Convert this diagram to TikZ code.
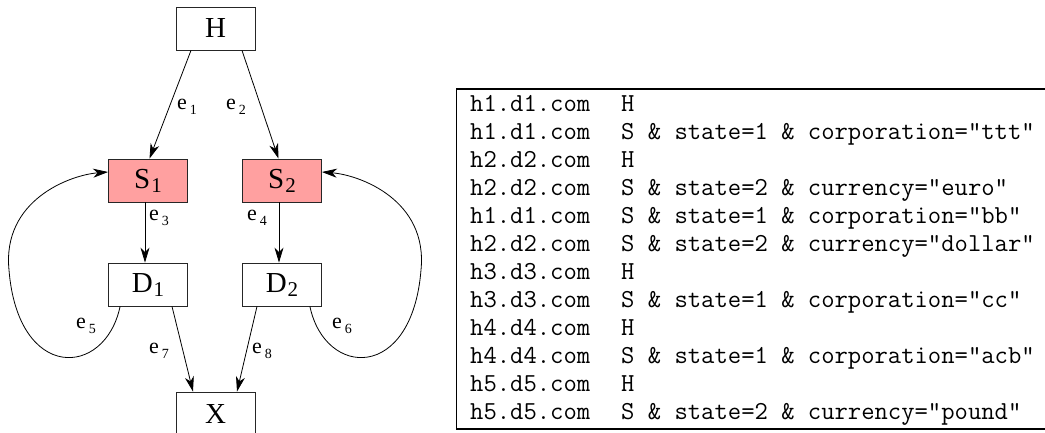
\documentclass[tikz,border=0pt]{standalone}
\usepackage{fontspec}
\setmainfont{Liberation Serif}
\usetikzlibrary{arrows.meta}

\definecolor{statefill}{RGB}{255,160,160}

% edge label e_i and box label with index
\newcommand{\elab}[1]{e\kern3pt\raisebox{-4.5pt}{\fontsize{14}{14}\selectfont #1}}
\newcommand{\idx}[2]{#1\kern1pt\raisebox{-4pt}{\fontsize{21}{21}\selectfont #2}}

\tikzset{
  box/.style={draw=black!85, line width=0.8pt, minimum width=79pt,
    minimum height=43pt, inner sep=0pt, font=\fontsize{29}{29}\selectfont},
  statebox/.style={box, fill=statefill},
  link/.style={line width=0.8pt, -{Stealth[length=15pt,width=9pt,inset=4.5pt]}},
  lbl/.style={inner sep=0pt, font=\fontsize{22}{22}\selectfont},
  rec/.style={inner sep=0pt, anchor=base west,
    font=\ttfamily\fontsize{25.9}{28}\selectfont},
}

\begin{document}
\begin{tikzpicture}[x=1pt,y=-1pt]
  \useasboundingbox (0,0) rectangle (1045,432);

  % the graph
  \node[box] (H) at (215.5,28.5) {H};
  \node[statebox] (S1) at (148,180.5) {\idx{S}{1}};
  \node[statebox] (S2) at (282,180.5) {\idx{S}{2}};
  \node[box] (D1) at (148,284.5) {\idx{D}{1}};
  \node[box] (D2) at (282,284.5) {\idx{D}{2}};
  \node[box] (X) at (215.5,413.5) {X};

  \draw[link] ([xshift=-24.5pt]H.south) -- ([xshift=1.5pt]S1.north);
  \draw[link] ([xshift=26.5pt]H.south) -- ([xshift=-3.5pt]S2.north);
  \draw[link] ([xshift=-3pt]S1.south) -- ([xshift=-3pt]D1.north);
  \draw[link] ([xshift=-3pt]S2.south) -- ([xshift=-3pt]D2.north);
  \draw[link] ([xshift=24pt]D1.south) -- ([xshift=-22.5pt]X.north);
  \draw[link] ([xshift=-25pt]D2.south) -- ([xshift=21.5pt]X.north);
  % loops back to S1 and S2
  \draw[link] ([xshift=12pt]D1.south west) .. controls (105,378) and (18,382) .. (9,270)
    .. controls (2,200) and (70,175) .. ([yshift=8.5pt]S1.west);
  \draw[link] ([xshift=-12pt]D2.south east) .. controls (325,378) and (412,382) .. (421,270)
    .. controls (428,200) and (360,175) .. ([yshift=8.5pt]S2.east);

  \node[lbl] (e1) at (187,107) {\elab{1}};
  \node[lbl] (e2) at (236,107) {\elab{2}};
  \node[lbl] (e3) at (159,218) {\elab{3}};
  \node[lbl] (e4) at (257,218) {\elab{4}};
  \node[lbl] (e5) at (86,326) {\elab{5}};
  \node[lbl] (e6) at (342,326) {\elab{6}};
  \node[lbl] (e7) at (159,351) {\elab{7}};
  \node[lbl] (e8) at (262,351) {\elab{8}};

  % the records
  \draw[line width=1.5pt] (1050,89) -| (456.5,429) -- (1050,429);
  \foreach \host/\entry [count=\i from 0] in {
      {h1.d1.com}/{H},
      {h1.d1.com}/{S \& state=1 \& corporation="ttt"},
      {h2.d2.com}/{H},
      {h2.d2.com}/{S \& state=2 \& currency="euro"},
      {h1.d1.com}/{S \& state=1 \& corporation="bb"},
      {h2.d2.com}/{S \& state=2 \& currency="dollar"},
      {h3.d3.com}/{H},
      {h3.d3.com}/{S \& state=1 \& corporation="cc"},
      {h4.d4.com}/{H},
      {h4.d4.com}/{S \& state=1 \& corporation="acb"},
      {h5.d5.com}/{H},
      {h5.d5.com}/{S \& state=2 \& currency="pound"}} {
    \node[rec] (host\i) at (470,{111+28*\i}) {\host};
    \node[rec] (entry\i) at (621,{111+28*\i}) {\entry};
  }
\end{tikzpicture}
\end{document}
